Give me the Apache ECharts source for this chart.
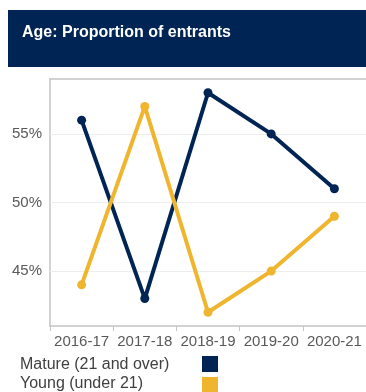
<!DOCTYPE html>
<html><head><meta charset="utf-8">
<script src="https://cdn.jsdelivr.net/npm/echarts@6/dist/echarts.min.js"></script>
<style>html,body{margin:0;padding:0;background:#fff}#c{width:366px;height:392px}</style>
</head><body><div id="c"></div>
<script>
const categories = ['2016-17','2017-18','2018-19','2019-20','2020-21'];
const matureValues = [56, 43, 58, 55, 51];
const youngValues = [44, 57, 42, 45, 49];
const seriesNames = ['Mature (21 and over)', 'Young (under 21)'];
const yTicks = [45, 50, 55];

const NAVY = '#002554', GOLD = '#F0B52E';
const chart = echarts.init(document.getElementById('c'));
const font = 'Arial, "Liberation Sans", sans-serif';
const legends = [];
seriesNames.forEach((n, i) => {
  legends.push({data:[n], left: 202, top: 356 + i * 21, orient:'vertical', padding: 0,
    itemWidth: 16, itemHeight: 16, icon:'rect', formatter: () => '', selectedMode: false});
  legends.push({data:[n], left: 15, top: 357 + i * 19, orient:'vertical', padding: 0,
    itemWidth: 0, itemHeight: 16, icon:'rect',
    textStyle:{fontFamily: font, fontSize: 16, color:'#404040'}});
});
chart.setOption({
  animation: false,
  graphic: [
    {type:'rect', left: 8, top: 10, shape:{width: 358, height: 57}, style:{fill: NAVY}, z: 0}
  ],
  title: {
    text: 'Age: Proportion of entrants', left: 17, top: 20,
    textStyle: {color:'#fff', fontFamily: font, fontSize: 16, fontWeight:'bold'}
  },
  grid: {left: 50, right: -3, top: 79, bottom: 66},
  legend: legends,
  xAxis: [{
    type:'category', data: categories, boundaryGap: true,
    axisLine:{show:true, lineStyle:{color:'#c4c4c4', width: 1.5}},
    axisTick:{show:true, length: 5, interval: 0, lineStyle:{color:'#c4c4c4'}},
    axisLabel:{fontFamily: font, fontSize: 15, color:'#595959', margin: 8, interval: 0}
  }, {
    type:'category', data: categories, position:'top',
    axisLine:{show:true, lineStyle:{color:'#c4c4c4', width: 1.5}},
    axisTick:{show:false}, axisLabel:{show:false}
  }],
  yAxis: {
    type:'value', min: 41, max: 59, interval: 1,
    axisLine:{show:true, lineStyle:{color:'#c4c4c4', width: 1.5}},
    axisTick:{show:false},
    splitLine:{show:false},
    axisLabel:{fontFamily: font, fontSize: 15, color:'#595959', margin: 8,
      customValues: yTicks, formatter: v => v + '%'}
  },
  series: [
    {name: seriesNames[0], type:'line', data: matureValues, color: NAVY, z: 3,
     lineStyle:{width:4, color: NAVY}, symbol:'circle', symbolSize: 9, itemStyle:{color: NAVY},
     markLine: {silent: true, symbol:'none', label:{show:false}, z: 1,
       lineStyle:{color:'#ededed', type:'solid', width: 1},
       data: yTicks.map(v => ({yAxis: v}))}},
    {name: seriesNames[1], type:'line', data: youngValues, color: GOLD, z: 3,
     lineStyle:{width:4, color: GOLD}, symbol:'circle', symbolSize: 9, itemStyle:{color: GOLD}}
  ]
});
</script></body></html>
